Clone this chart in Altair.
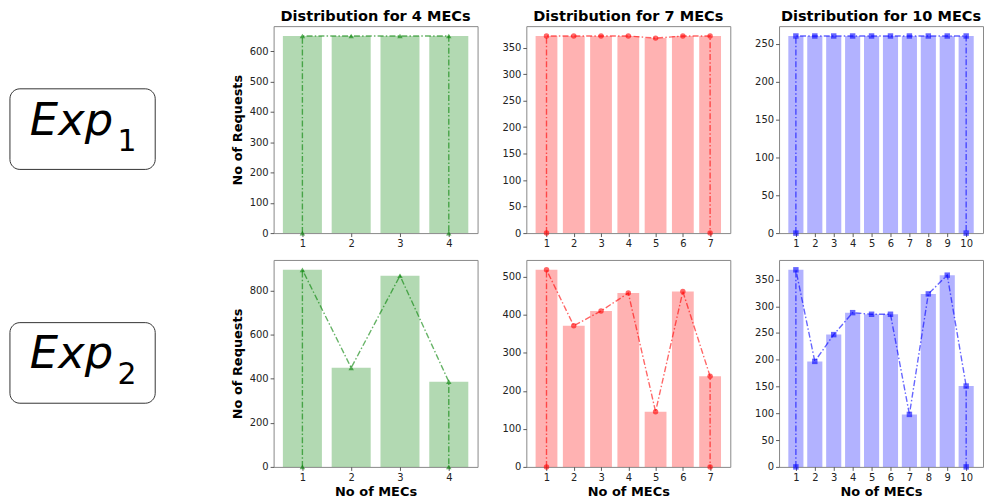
import altair as alt
import pandas as pd

# Request counts per MEC, one list per deployment size (4, 7, 10 MECs)
exp1_values = [
    [650, 650, 650, 650],
    [372, 372, 372, 372, 368, 372, 372],
    [260, 260, 260, 260, 260, 260, 260, 260, 260, 260],
]
exp2_values = [
    [895, 450, 868, 387],
    [518, 371, 410, 457, 145, 461, 238],
    [368, 197, 247, 288, 285, 285, 98, 323, 358, 151],
]

# y-axis tick labels for each panel
exp1_yticks = [
    [0, 100, 200, 300, 400, 500, 600],
    [0, 50, 100, 150, 200, 250, 300, 350],
    [0, 50, 100, 150, 200, 250],
]
exp2_yticks = [
    [0, 200, 400, 600, 800],
    [0, 100, 200, 300, 400, 500],
    [0, 50, 100, 150, 200, 250, 300, 350],
]

panel_titles = ["Distribution for 4 MECs", "Distribution for 7 MECs", "Distribution for 10 MECs"]
panel_colors = ["green", "red", "blue"]
panel_shapes = ["triangle-up", "circle", "square"]
exp_names = ["Exp", "Exp"]
exp_subscripts = ["1", "2"]

FONT = "DejaVu Sans"
PANEL_W, PANEL_H = 205, 208


def panel(values, color, shape, yticks, title=None, ytitle=None, xtitle=None):
    n = len(values)
    mecs = list(range(1, n + 1))
    bars = pd.DataFrame({"mec": mecs, "requests": values})
    # dash-dot trace: rises from zero at the first MEC, runs over the bar tops,
    # then drops back to zero at the last MEC
    trace = pd.DataFrame({
        "step": list(range(n + 2)),
        "mec": [1] + mecs + [n],
        "requests": [0] + list(values) + [0],
    })

    span = n - 0.2  # bars occupy 0.6 .. n + 0.4
    xs = alt.Scale(domain=[0.6 - 0.05 * span, n + 0.4 + 0.05 * span], nice=False, zero=False)
    ys = alt.Scale(domain=[0, 1.05 * max(values)], nice=False)
    xaxis = alt.Axis(values=mecs, format="d", title=xtitle, titlePadding=3)
    yaxis = alt.Axis(values=yticks, format="d", title=ytitle, titlePadding=5)

    bar_layer = (
        alt.Chart(bars)
        .transform_calculate(lo="datum.mec - 0.4", hi="datum.mec + 0.4")
        .mark_rect(color=color, opacity=0.3)
        .encode(
            x=alt.X("lo:Q", scale=xs, axis=xaxis),
            x2="hi:Q",
            y=alt.Y("requests:Q", scale=ys, axis=yaxis),
            y2=alt.datum(0),
        )
    )
    line_layer = (
        alt.Chart(trace)
        .mark_line(
            color=color,
            opacity=0.6,
            strokeWidth=1.4,
            strokeDash=[6, 2.2, 1.5, 2.2],
            point=alt.OverlayMarkDef(shape=shape, size=30, filled=True, color=color, opacity=0.6),
        )
        .encode(
            x=alt.X("mec:Q", scale=xs, axis=xaxis),
            y=alt.Y("requests:Q", scale=ys, axis=yaxis),
            order="step:Q",
        )
    )
    props = dict(width=PANEL_W, height=PANEL_H)
    if title:
        props["title"] = alt.TitleParams(
            title, font=FONT, fontSize=14.6, fontWeight="bold", color="black", offset=3
        )
    return alt.layer(bar_layer, line_layer).properties(**props)


def label_box(name, sub):
    src = pd.DataFrame({"name": [name], "sub": [sub]})
    base = alt.Chart(src)
    frame = base.mark_rect(
        cornerRadius=10, fill="white", stroke="#333", strokeWidth=1
    ).encode(x=alt.value(0), x2=alt.value(146), y=alt.value(63), y2=alt.value(144))
    main = base.mark_text(
        font=FONT, fontStyle="italic", fontSize=45, align="left", baseline="alphabetic", color="black"
    ).encode(text="name:N", x=alt.value(20), y=alt.value(109))
    subscript = base.mark_text(
        font=FONT, fontSize=30, align="left", baseline="alphabetic", color="black"
    ).encode(text="sub:N", x=alt.value(108), y=alt.value(125))
    return alt.layer(frame, main, subscript).properties(
        width=216, height=PANEL_H, view=alt.ViewBackground(strokeOpacity=0)
    )


row1 = alt.hconcat(
    label_box(exp_names[0], exp_subscripts[0]),
    *[
        panel(
            exp1_values[i], panel_colors[i], panel_shapes[i], exp1_yticks[i],
            title=panel_titles[i], ytitle="No of Requests" if i == 0 else None,
        )
        for i in range(3)
    ],
    spacing=49,
    bounds="flush",
)
row2 = alt.hconcat(
    label_box(exp_names[1], exp_subscripts[1]),
    *[
        panel(
            exp2_values[i], panel_colors[i], panel_shapes[i], exp2_yticks[i],
            ytitle="No of Requests" if i == 0 else None, xtitle="No of MECs",
        )
        for i in range(3)
    ],
    spacing=49,
    bounds="flush",
)

chart = (
    alt.vconcat(row1, row2, spacing=10)
    .properties(padding={"left": 9, "top": 6, "right": 0, "bottom": 2})
    .configure_view(stroke="#888888", strokeWidth=1)
    .configure_axis(
        labelFont=FONT,
        labelFontSize=10,
        labelColor="#222222",
        labelPadding=2,
        titleFont=FONT,
        titleFontSize=13,
        titleFontWeight="bold",
        titleColor="black",
        tickColor="#333333",
        tickSize=3.5,
        tickWidth=0.8,
        grid=False,
        domain=False,
    )
)

chart.save("out.html", embed_options={"renderer": "svg", "actions": False})
